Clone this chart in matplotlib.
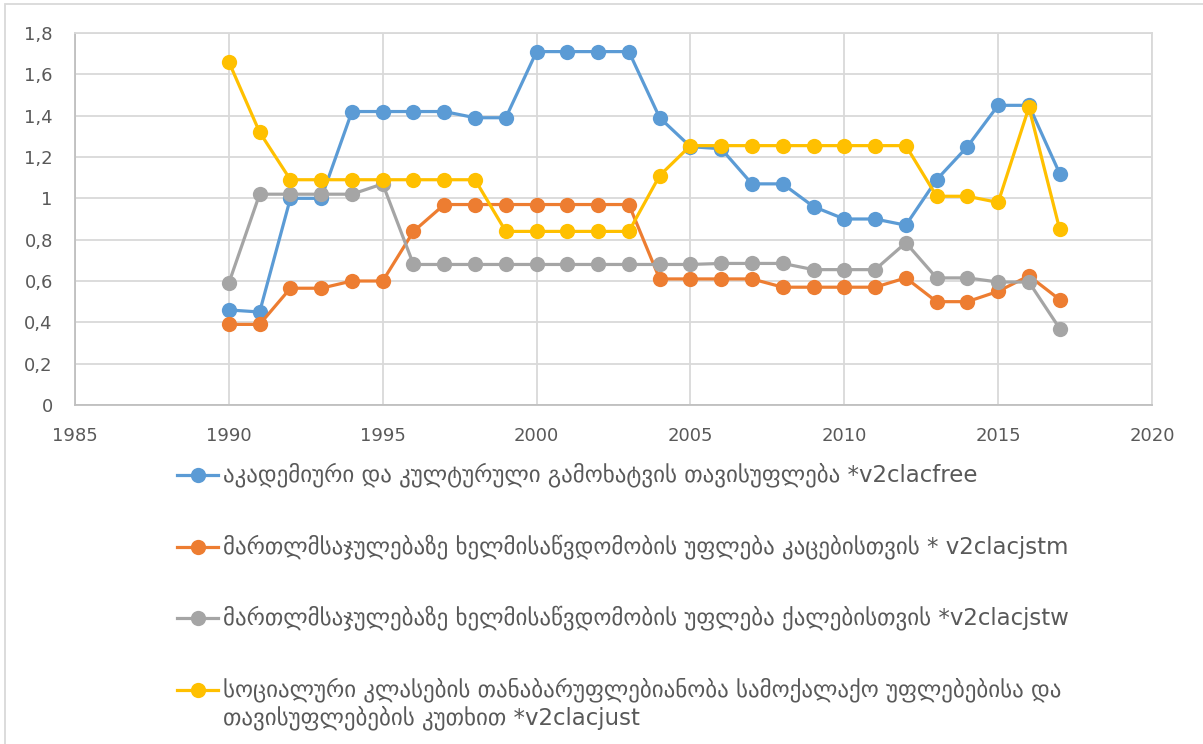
import matplotlib
matplotlib.use("Agg")
import matplotlib.pyplot as plt
from matplotlib.lines import Line2D
from matplotlib.patches import Rectangle
from matplotlib.ticker import FuncFormatter, MultipleLocator

plt.rcParams['font.family'] = ['DejaVu Sans']

years = list(range(1990, 2018))

acad_free = [0.46, 0.45, 1.00, 1.00, 1.42, 1.42, 1.42, 1.42, 1.39, 1.39,
             1.71, 1.71, 1.71, 1.71, 1.39, 1.25, 1.24, 1.07, 1.07, 0.96,
             0.90, 0.90, 0.87, 1.09, 1.25, 1.45, 1.45, 1.12]
just_men = [0.39, 0.39, 0.565, 0.565, 0.60, 0.60, 0.84, 0.97, 0.97, 0.97,
            0.97, 0.97, 0.97, 0.97, 0.61, 0.61, 0.61, 0.61, 0.57, 0.57,
            0.57, 0.57, 0.615, 0.50, 0.50, 0.55, 0.625, 0.51]
just_women = [0.59, 1.02, 1.02, 1.02, 1.02, 1.07, 0.68, 0.68, 0.68, 0.68,
              0.68, 0.68, 0.68, 0.68, 0.68, 0.68, 0.685, 0.685, 0.685, 0.655,
              0.655, 0.655, 0.785, 0.615, 0.615, 0.595, 0.595, 0.37]
class_eq = [1.66, 1.32, 1.09, 1.09, 1.09, 1.09, 1.09, 1.09, 1.09, 0.84,
            0.84, 0.84, 0.84, 0.84, 1.11, 1.255, 1.255, 1.255, 1.255, 1.255,
            1.255, 1.255, 1.255, 1.01, 1.01, 0.98, 1.44, 0.85]

labels = [
    "აკადემიური და კულტურული გამოხატვის თავისუფლება *v2clacfree",
    "მართლმსაჯულებაზე ხელმისაწვდომობის უფლება კაცებისთვის * v2clacjstm",
    "მართლმსაჯულებაზე ხელმისაწვდომობის უფლება ქალებისთვის *v2clacjstw",
    "სოციალური კლასების თანაბარუფლებიანობა სამოქალაქო უფლებებისა და\nთავისუფლებების კუთხით *v2clacjust",
]
colors = ["#5B9BD5", "#ED7D31", "#A5A5A5", "#FFC000"]
series = [acad_free, just_men, just_women, class_eq]

W, H = 1203, 744
fig = plt.figure(figsize=(W / 100, H / 100), dpi=100)
ax = fig.add_axes([75 / W, 1 - 405 / H, (1152 - 75) / W, (405 - 33) / H])

for vals, c in zip(series, colors):
    ax.plot(years, vals, color=c, lw=2.3, marker='o', ms=11,
            markeredgewidth=0, zorder=3, clip_on=False)

ax.set_xlim(1985, 2020)
ax.set_ylim(0, 1.8)
ax.xaxis.set_major_locator(MultipleLocator(5))
ax.yaxis.set_major_locator(MultipleLocator(0.2))
ax.yaxis.set_major_formatter(FuncFormatter(
    lambda v, p: ("%.1f" % v).rstrip('0').rstrip('.').replace('.', ',')))
ax.grid(True, color="#D9D9D9", lw=1.3)
ax.set_axisbelow(True)
for s in ax.spines.values():
    s.set_color("#D9D9D9")
    s.set_linewidth(1.3)
ax.spines['left'].set_color("#BFBFBF")
ax.spines['bottom'].set_color("#BFBFBF")
ax.tick_params(length=0, labelsize=13, colors="#595959", pad=16)

# legend below the plot
rows_y = [475, 547, 618, 690]
for lab, c, yy in zip(labels, colors, rows_y):
    fy = 1 - yy / H
    fig.add_artist(Line2D([177 / W, 218 / W], [fy, fy], color=c, lw=2.3,
                          transform=fig.transFigure))
    fig.add_artist(Line2D([197.5 / W], [fy], color=c, marker='o', ms=11,
                          markeredgewidth=0, transform=fig.transFigure))
    for k, part in enumerate(lab.split('\n')):
        fig.text(223 / W, 1 - (yy + 28 * k) / H, part, fontsize=16.5,
                 color="#595959", va='center', transform=fig.transFigure)

fig.add_artist(Rectangle((5 / W, -0.01), 1.1, 1 - 4 / H + 0.01,
                         transform=fig.transFigure, fill=False,
                         edgecolor="#D9D9D9", lw=1.3))

fig.savefig("out.png", dpi=100)
